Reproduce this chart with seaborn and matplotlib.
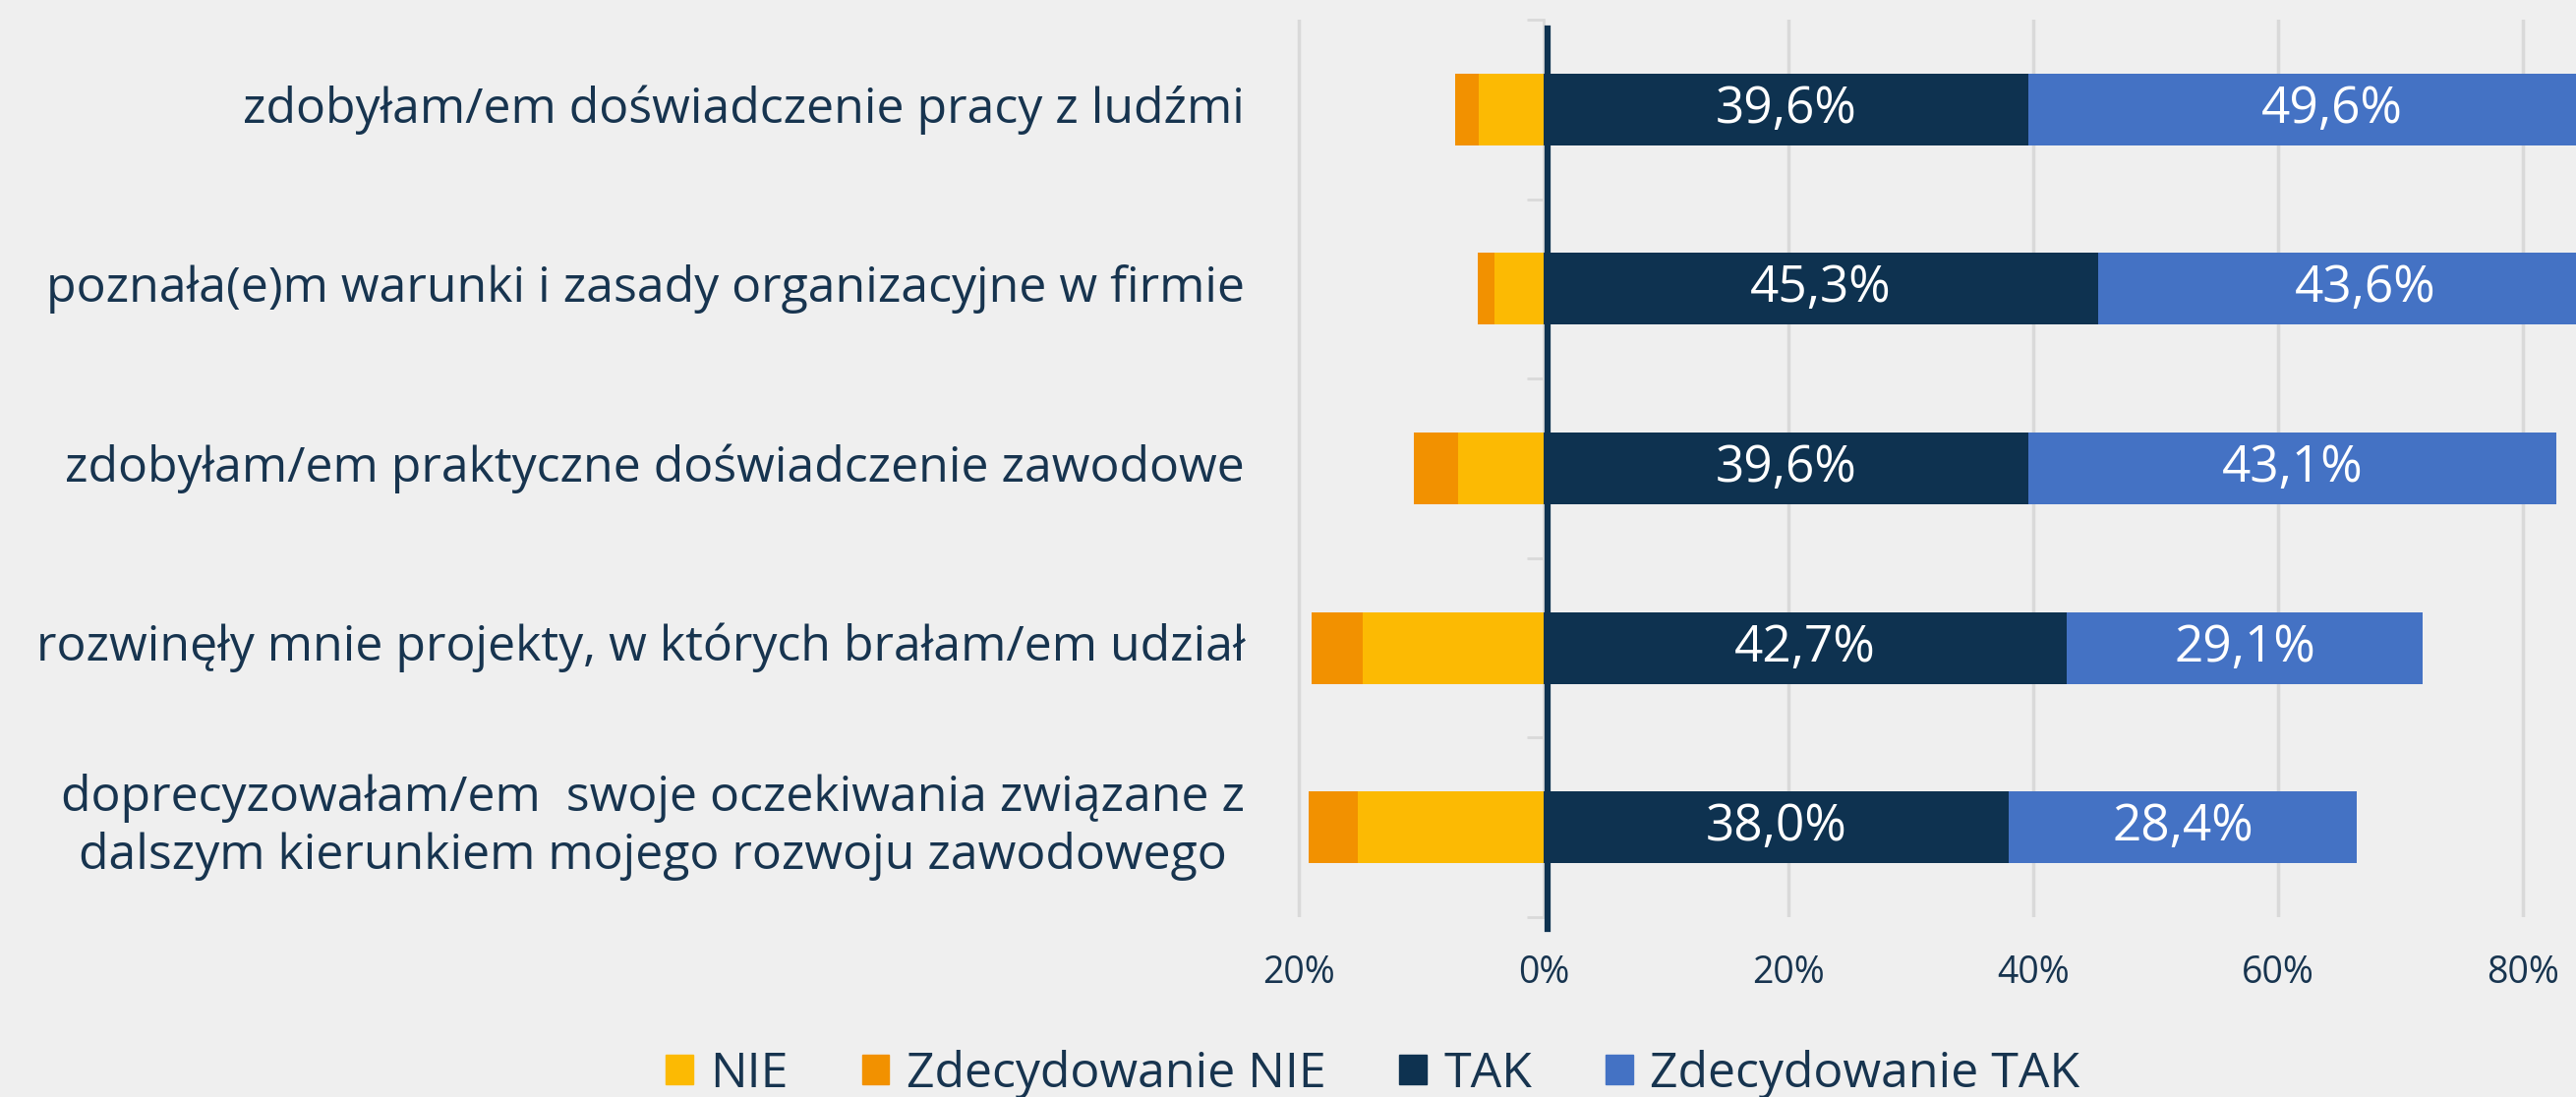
import numpy as np
import pandas as pd
import matplotlib
matplotlib.use("Agg")
import matplotlib.pyplot as plt
from matplotlib.patches import Patch
from matplotlib.ticker import FuncFormatter
import seaborn as sns

# Data (percent)
categories = [
    "zdobyłam/em doświadczenie pracy z ludźmi",
    "poznała(e)m warunki i zasady organizacyjne w firmie",
    "zdobyłam/em praktyczne doświadczenie zawodowe",
    "rozwinęły mnie projekty, w których brałam/em udział",
    "doprecyzowałam/em  swoje oczekiwania związane z\ndalszym kierunkiem mojego rozwoju zawodowego",
]
nie = [5.3, 4.0, 7.0, 14.8, 15.2]
zdec_nie = [1.9, 1.4, 3.6, 4.1, 4.0]
tak = [39.6, 45.3, 39.6, 42.7, 38.0]
zdec_tak = [49.6, 43.6, 43.1, 29.1, 28.4]
x_ticks = [-20, 0, 20, 40, 60, 80]

# Colors
c_nie = "#FCBA03"
c_zdec_nie = "#F29100"
c_tak = "#0E3250"
c_zdec_tak = "#4472C4"
bg = "#EFEFEF"
txt = "#17344F"
grid_c = "#D9D9D9"

df = pd.DataFrame({
    "kat": categories,
    "nie": nie,
    "zdec_nie": zdec_nie,
    "tak": tak,
    "zdec_tak": zdec_tak,
})
df["neg_total"] = -(df["nie"] + df["zdec_nie"])
df["neg_nie"] = -df["nie"]
df["pos_total"] = df["tak"] + df["zdec_tak"]

font = "Open Sans"
plt.rcParams["font.family"] = [font, "DejaVu Sans"]

fig = plt.figure(figsize=(26.2, 11.16), dpi=100, facecolor=bg)
ax = fig.add_axes([1317 / 2620, 1 - 933 / 1116, 1 - 1317 / 2620, (933 - 20) / 1116])
ax.set_facecolor(bg)

# stacked bars by overlaying totals then inner segment
w = 0.4
sns.barplot(data=df, y="kat", x="neg_total", color=c_zdec_nie, width=w,
            orient="h", ax=ax, saturation=1, zorder=2)
sns.barplot(data=df, y="kat", x="neg_nie", color=c_nie, width=w,
            orient="h", ax=ax, saturation=1, zorder=3)
sns.barplot(data=df, y="kat", x="pos_total", color=c_zdec_tak, width=w,
            orient="h", ax=ax, saturation=1, zorder=2)
sns.barplot(data=df, y="kat", x="tak", color=c_tak, width=w,
            orient="h", ax=ax, saturation=1, zorder=3)

ax.set_xlim(-20.3, 84.3)
ax.set_ylim(4.5, -0.5)
ax.set_xlabel("")
ax.set_ylabel("")

# gridlines
ax.set_xticks(x_ticks)
ax.xaxis.set_major_formatter(FuncFormatter(lambda v, p: f"{abs(v):.0f}%"))
ax.tick_params(axis="x", length=0, labelsize=27, labelcolor=txt, pad=27)
for xv in x_ticks:
    if xv != 0:
        ax.axvline(xv, color=grid_c, lw=2.5, zorder=0)

# zero axis with category-boundary ticks
for s in ["top", "right", "bottom"]:
    ax.spines[s].set_visible(False)
ax.spines["left"].set_position(("data", 0))
ax.spines["left"].set_color(grid_c)
ax.spines["left"].set_linewidth(2)
ax.set_yticks(np.arange(len(categories)))
ax.set_yticklabels([])
ax.tick_params(axis="y", which="major", length=0)
ax.set_yticks(np.arange(len(categories) + 1) - 0.5, minor=True)
ax.tick_params(axis="y", which="minor", length=12, width=2, color=grid_c)
ax.axvline(0.35, ymin=-0.013, ymax=0.99, color=c_tak, lw=4.5, zorder=4,
           clip_on=False)

# category labels
trans = matplotlib.transforms.blended_transform_factory(ax.transAxes, ax.transData)
for i, lab in enumerate(categories):
    ax.text(-0.039, i, lab, transform=trans, ha="right", va="center",
            multialignment="center", fontsize=36, color=txt, linespacing=1.25)

# data labels
for i in range(len(categories)):
    ax.text(tak[i] / 2, i, f"{tak[i]:.1f}%".replace(".", ","), ha="center",
            va="center", color="white", fontsize=37, zorder=5)
    ax.text(tak[i] + zdec_tak[i] / 2, i, f"{zdec_tak[i]:.1f}%".replace(".", ","),
            ha="center", va="center", color="white", fontsize=37, zorder=5)

# legend
handles = [Patch(color=c_nie, label="NIE"),
           Patch(color=c_zdec_nie, label="Zdecydowanie NIE"),
           Patch(color=c_tak, label="TAK"),
           Patch(color=c_zdec_tak, label="Zdecydowanie TAK")]
fig.legend(handles=handles, loc="center", bbox_to_anchor=(0.533, 1 - 1093 / 1116),
           ncol=4, frameon=False, fontsize=36, labelcolor=txt,
           handlelength=0.55, handleheight=0.55, handletextpad=0.35,
           columnspacing=1.5)

fig.savefig("out.png", dpi=100, facecolor=bg)
